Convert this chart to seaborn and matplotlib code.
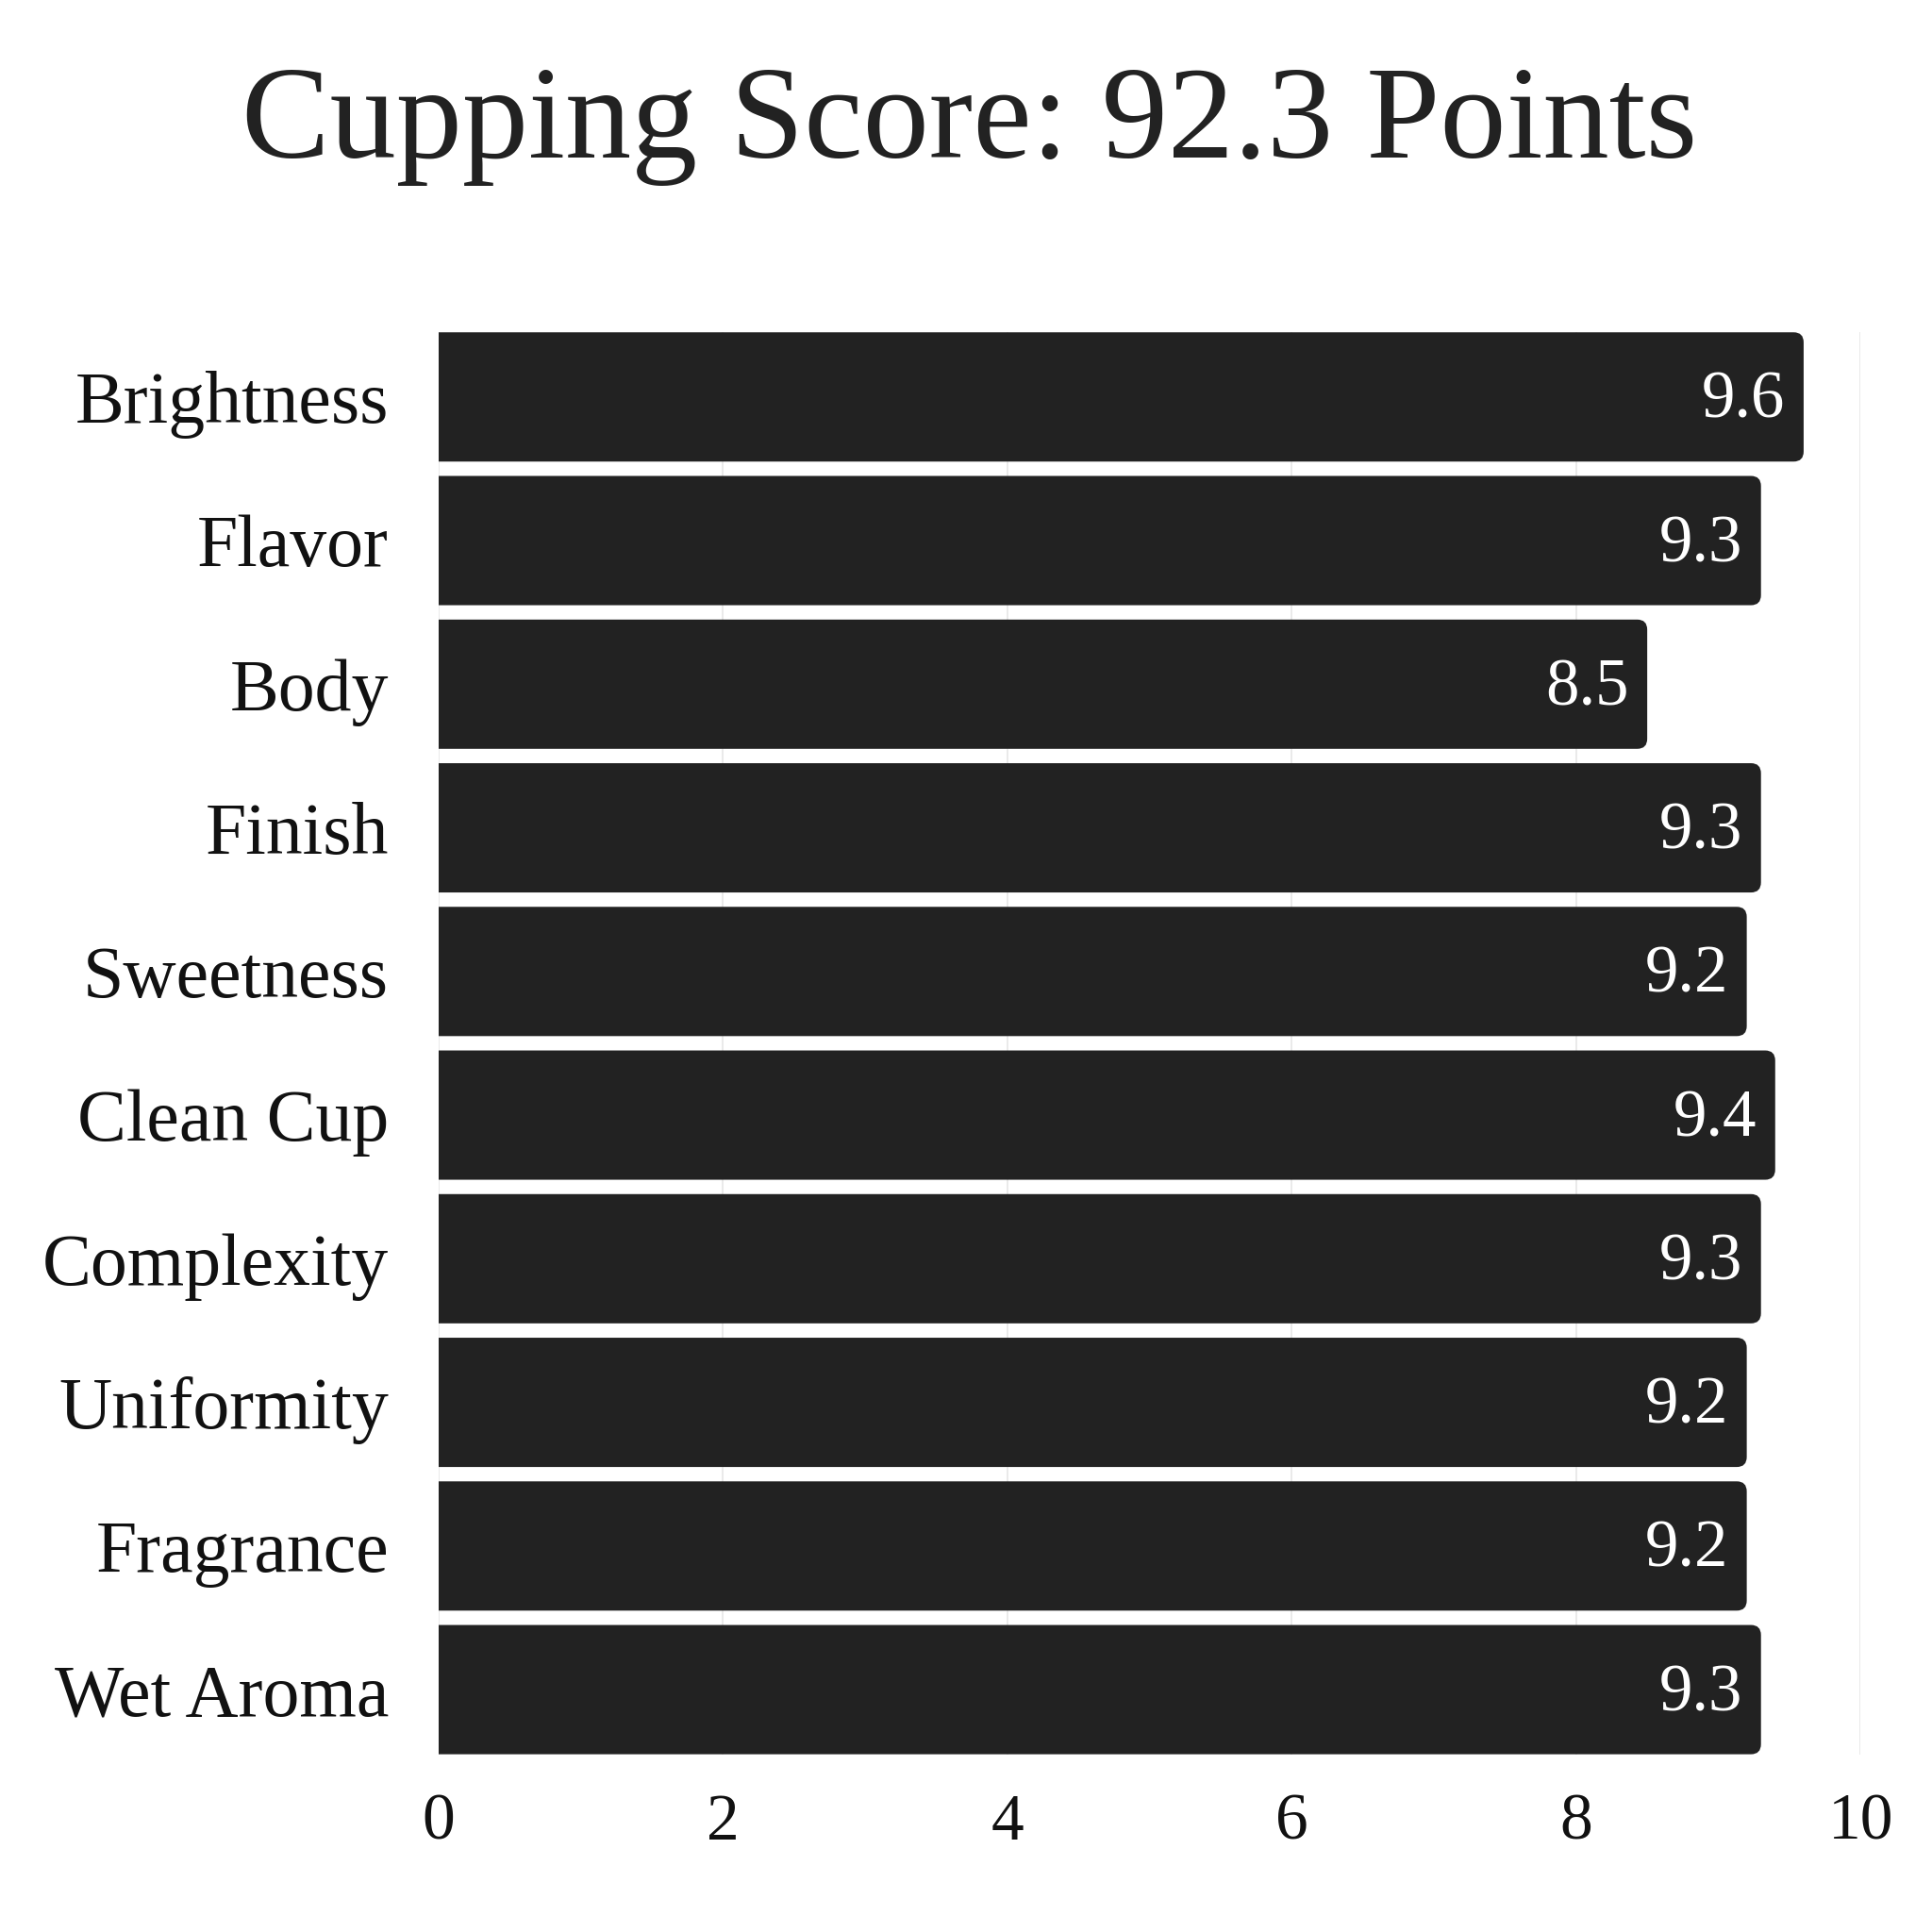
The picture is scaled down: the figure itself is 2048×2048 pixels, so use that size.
import pandas as pd
import seaborn as sns
import matplotlib.pyplot as plt
from matplotlib.patches import FancyBboxPatch

# cupping attributes, top to bottom as in the chart
attributes = ["Brightness", "Flavor", "Body", "Finish", "Sweetness",
              "Clean Cup", "Complexity", "Uniformity", "Fragrance", "Wet Aroma"]
scores = [9.6, 9.3, 8.5, 9.3, 9.2, 9.4, 9.3, 9.2, 9.2, 9.3]
x_ticks = [0, 2, 4, 6, 8, 10]

df = pd.DataFrame({"attribute": attributes, "score": scores})

sns.set_theme(style="white")
plt.rcParams["font.family"] = ["Liberation Serif", "DejaVu Serif"]

bar_color = "#222222"
fig = plt.figure(figsize=(20.48, 20.48), dpi=100)
ax = fig.add_axes([0.227, 0.092, 0.736, 0.736])

sns.barplot(data=df, y="attribute", x="score", color=bar_color, width=0.9,
            saturation=1, ax=ax, orient="h")

# swap the plain rectangles for ones with rounded corners (left side hidden by the axis clip)
for p in list(ax.patches):
    x0, y0 = p.get_x(), p.get_y()
    w, h = p.get_width(), p.get_height()
    r = FancyBboxPatch((x0 - 0.2, y0), w + 0.2, h,
                       boxstyle="round,pad=0,rounding_size=0.07",
                       mutation_aspect=1, facecolor=bar_color, edgecolor="none",
                       zorder=2)
    p.remove()
    ax.add_patch(r)

for i, v in enumerate(scores):
    ax.text(v - 0.13, i + 0.03, f"{v:.1f}", ha="right", va="center",
            color="white", fontsize=51, zorder=3)

ax.set_xlim(0, 10)
ax.set_ylim(len(attributes) - 1 + 0.45, -0.45)
ax.set_xticks(x_ticks)
ax.set_xticklabels([str(t) for t in x_ticks])
ax.set_xlabel("")
ax.set_ylabel("")
ax.tick_params(axis="x", length=0, pad=30, labelsize=50, labelcolor="#111111")
ax.tick_params(axis="y", length=0, pad=38, labelsize=56, labelcolor="#111111")
ax.grid(axis="x", color="#e6e6e6", linewidth=1.2, zorder=0)
ax.set_axisbelow(True)
sns.despine(ax=ax, left=True, bottom=True)

fig.text(0.502, 0.935, "Cupping Score: 92.3 Points", ha="center", va="center",
         fontsize=101, color="#222222")

fig.savefig("out.png", dpi=100, facecolor="white")
